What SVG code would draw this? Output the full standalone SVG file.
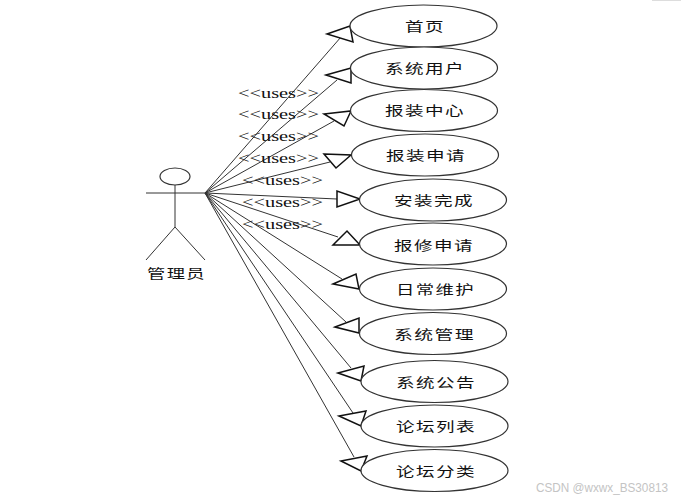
<svg xmlns="http://www.w3.org/2000/svg" width="681" height="501" viewBox="0 0 681 501">
<style>
.n{fill:#fff;stroke:#333;stroke-width:1.2}
.l{fill:none;stroke:#333;stroke-width:1}
.a{fill:#fff;stroke:#111;stroke-width:1.5;stroke-linejoin:miter}
.t{font-family:"Noto Sans CJK SC","Liberation Sans",sans-serif;font-size:13px;letter-spacing:1px;fill:#111}
.u{font-family:"Liberation Serif",serif;font-size:14px;fill:#111}
.w{font-family:"Liberation Sans",sans-serif;font-size:12px;fill:#c4c4c4}
</style>
<rect x="652" y="0" width="29" height="1" fill="#ddd"/>
<g id="connectors">
<g class="l">
<line x1="205" y1="193" x2="341" y2="37"/>
<line x1="205" y1="193" x2="337" y2="80"/>
<line x1="205" y1="193" x2="334" y2="121"/>
<line x1="205" y1="193" x2="330" y2="162"/>
<line x1="205" y1="193" x2="337" y2="199"/>
<line x1="205" y1="193" x2="338" y2="237"/>
<line x1="205" y1="193" x2="342" y2="279"/>
<line x1="205" y1="193" x2="346" y2="322"/>
<line x1="205" y1="193" x2="351" y2="368"/>
<line x1="205" y1="193" x2="353" y2="413"/>
<line x1="205" y1="193" x2="354" y2="457"/>
</g>
<polygon class="a" points="327,34 350,26 353,42"/>
<polygon class="a" points="326,75 351,68 351,83"/>
<polygon class="a" points="324,114 351,111 344,126"/>
<polygon class="a" points="324,154 351,155 336,168"/>
<polygon class="a" points="337,191 337,207 360,199"/>
<polygon class="a" points="333,245 360,245 347,231"/>
<polygon class="a" points="333,284 356,274 359,289"/>
<polygon class="a" points="335,327 359,318 359,333"/>
<polygon class="a" points="338,373 364,366 361,381"/>
<polygon class="a" points="339,416 366,411 361,426"/>
<polygon class="a" points="341,461 367,456 361,471"/>
<text class="u" x="238" y="98" textLength="81" lengthAdjust="spacingAndGlyphs">&lt;&lt;uses&gt;&gt;</text>
<text class="u" x="238" y="119" textLength="81" lengthAdjust="spacingAndGlyphs">&lt;&lt;uses&gt;&gt;</text>
<text class="u" x="238" y="141" textLength="81" lengthAdjust="spacingAndGlyphs">&lt;&lt;uses&gt;&gt;</text>
<text class="u" x="238" y="163" textLength="81" lengthAdjust="spacingAndGlyphs">&lt;&lt;uses&gt;&gt;</text>
<text class="u" x="242" y="185" textLength="81" lengthAdjust="spacingAndGlyphs">&lt;&lt;uses&gt;&gt;</text>
<text class="u" x="242" y="207" textLength="81" lengthAdjust="spacingAndGlyphs">&lt;&lt;uses&gt;&gt;</text>
<text class="u" x="242" y="229" textLength="81" lengthAdjust="spacingAndGlyphs">&lt;&lt;uses&gt;&gt;</text>
</g>
<g id="actor">
<ellipse cx="175" cy="176.5" rx="15" ry="8.5" class="n"/>
<path class="l" d="M146 193H205M175 185V227M146 260L175 227L205 260"/>
<text class="t" x="147" y="278" textLength="59" lengthAdjust="spacingAndGlyphs">管理员</text>
</g>
<g id="n1"><ellipse class="n" cx="423.5" cy="26" rx="73.5" ry="21"/><text class="t" x="405" y="31" textLength="40" lengthAdjust="spacingAndGlyphs">首页</text></g>
<g id="n2"><ellipse class="n" cx="424" cy="68" rx="73.5" ry="21"/><text class="t" x="385" y="73" textLength="80" lengthAdjust="spacingAndGlyphs">系统用户</text></g>
<g id="n3"><ellipse class="n" cx="424" cy="110.5" rx="73.5" ry="21"/><text class="t" x="385" y="115" textLength="80" lengthAdjust="spacingAndGlyphs">报装中心</text></g>
<g id="n4"><ellipse class="n" cx="425" cy="155" rx="73.5" ry="21"/><text class="t" x="386" y="160" textLength="80" lengthAdjust="spacingAndGlyphs">报装申请</text></g>
<g id="n5"><ellipse class="n" cx="433" cy="200" rx="73.5" ry="21"/><text class="t" x="394" y="205" textLength="80" lengthAdjust="spacingAndGlyphs">安装完成</text></g>
<g id="n6"><ellipse class="n" cx="433" cy="244" rx="73.5" ry="21"/><text class="t" x="394" y="250" textLength="80" lengthAdjust="spacingAndGlyphs">报修申请</text></g>
<g id="n7"><ellipse class="n" cx="433" cy="289" rx="73.5" ry="21"/><text class="t" x="396" y="294" textLength="79" lengthAdjust="spacingAndGlyphs">日常维护</text></g>
<g id="n8"><ellipse class="n" cx="433" cy="333.5" rx="73.5" ry="21"/><text class="t" x="394" y="339" textLength="81" lengthAdjust="spacingAndGlyphs">系统管理</text></g>
<g id="n9"><ellipse class="n" cx="434.5" cy="381.5" rx="73.5" ry="21"/><text class="t" x="396" y="387" textLength="80" lengthAdjust="spacingAndGlyphs">系统公告</text></g>
<g id="n10"><ellipse class="n" cx="434.5" cy="426" rx="73.5" ry="21"/><text class="t" x="396" y="431" textLength="80" lengthAdjust="spacingAndGlyphs">论坛列表</text></g>
<g id="n11"><ellipse class="n" cx="434.5" cy="470.5" rx="73.5" ry="21"/><text class="t" x="396" y="476" textLength="80" lengthAdjust="spacingAndGlyphs">论坛分类</text></g>
<text class="w" x="536" y="492" textLength="132" lengthAdjust="spacingAndGlyphs">CSDN @wxwx_BS30813</text>
</svg>
